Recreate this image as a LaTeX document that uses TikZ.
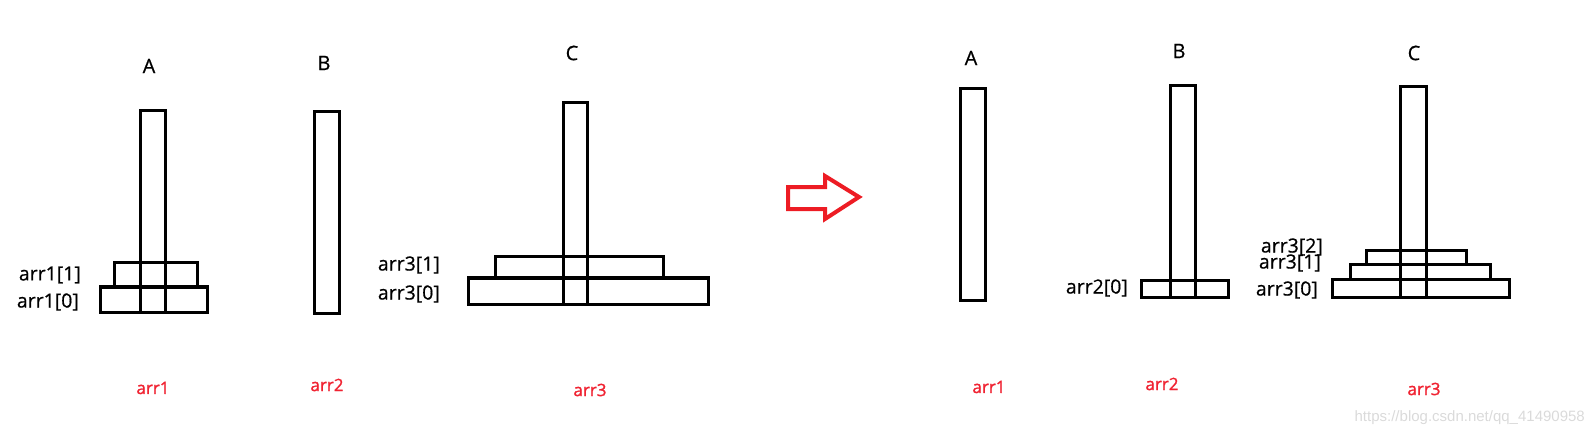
\documentclass[tikz,border=0pt]{standalone}
\usepackage{fontspec}
\setmainfont{Open Sans}
\newfontfamily\labfont[FakeBold=0.6]{Open Sans}
\newfontfamily\redfont[FakeBold=1.4]{Open Sans}
\newfontfamily\wmfont{Liberation Sans}
\definecolor{arrred}{RGB}{237,28,36}
\definecolor{lblred}{RGB}{240,35,50}
\definecolor{wmgrey}{RGB}{218,218,218}
\begin{document}
\begin{tikzpicture}[x=1pt,y=-1pt,
  pole/.style={draw=black,line width=3pt},
  disk/.style={draw=black,line width=3.4pt},
  peg/.style={font=\labfont\fontsize{20}{24}\selectfont,inner sep=0pt},
  idx/.style={font=\labfont\fontsize{19.5}{23}\selectfont,inner sep=0pt,anchor=east},
  arrname/.style={font=\redfont\fontsize{17}{20}\selectfont,text=lblred,inner sep=0pt},
  bigarrow/.style={draw=arrred,line width=4pt,line join=miter}]
\useasboundingbox (0,0) rectangle (1595,436);
% ---------- left scene ----------
\node[peg] (lA) at (149,66) {A};
\node[peg] (lB) at (324,63) {B};
\node[peg] (lC) at (572,53) {C};
\draw[pole] (140.5,110.5) rectangle (165.5,312.5);
\draw[pole] (314.5,111.5) rectangle (339.5,313.5);
\draw[pole] (563.5,102.5) rectangle (587.5,304.5);
\draw[disk] (114.5,262.5) rectangle (197.5,287);
\draw[disk] (100.5,287) rectangle (207.5,312.5);
\draw[disk] (495.5,256.5) rectangle (663.5,278);
\draw[disk] (468.5,278) rectangle (708.5,304.5);
\node[idx] (l11) at (81,275) {arr1[1]};
\node[idx] (l10) at (79,302) {arr1[0]};
\node[idx] (l31) at (440,265) {arr3[1]};
\node[idx] (l30) at (440,294) {arr3[0]};
\node[arrname] (la1) at (153,388) {arr1};
\node[arrname] (la2) at (327,385) {arr2};
\node[arrname] (la3) at (590,390) {arr3};
% ---------- arrow ----------
\draw[bigarrow] (788,187) -- (825,187) -- (825,176) -- (859,197) -- (825,219) -- (825,209) -- (788,209) -- cycle;
% ---------- right scene ----------
\node[peg] (rA) at (971,58) {A};
\node[peg] (rB) at (1179,51) {B};
\node[peg] (rC) at (1414,53) {C};
\draw[pole] (960.5,88.5) rectangle (985.5,300.5);
\draw[pole] (1170.5,85.5) rectangle (1195.5,297.5);
\draw[pole] (1400.5,86.5) rectangle (1426.5,297.5);
\draw[pole] (1141.5,280.5) rectangle (1228.5,297.5);
\draw[pole] (1366.5,250.5) rectangle (1466.5,264);
\draw[pole] (1350.5,264) rectangle (1490.5,279);
\draw[pole] (1332.5,279) rectangle (1509.5,297.5);
\node[idx] (r20) at (1128,288) {arr2[0]};
\node[idx] (r32) at (1323,247) {arr3[2]};
\node[idx] (r31) at (1321,263) {arr3[1]};
\node[idx] (r30) at (1318,290) {arr3[0]};
\node[arrname] (ra1) at (989,387) {arr1};
\node[arrname] (ra2) at (1162,384) {arr2};
\node[arrname] (ra3) at (1424,389) {arr3};
% ---------- watermark ----------
\node[font=\wmfont\fontsize{15}{18}\selectfont,text=wmgrey,inner sep=0pt,anchor=east] (wm) at (1585,418) {https://blog.csdn.net/qq\_41490958};
\end{tikzpicture}
\end{document}
